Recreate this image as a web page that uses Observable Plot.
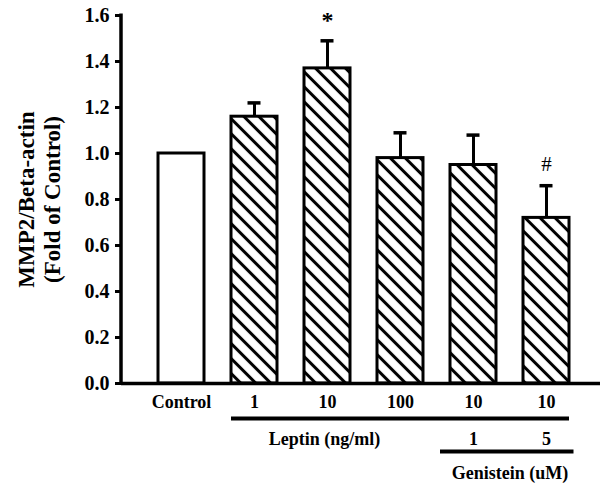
<!DOCTYPE html>
<html><head><meta charset="utf-8">
<script src="https://cdn.jsdelivr.net/npm/d3@7"></script>
<script src="https://cdn.jsdelivr.net/npm/@observablehq/plot@0.6"></script>
<style>body{margin:0;background:#fff}</style>
</head><body><div id="chart"></div>
<script>
const categories = ["Control", "Leptin 1", "Leptin 10", "Leptin 100", "Leptin 10 + Gen 1", "Leptin 10 + Gen 5"];
const means = [1.00, 1.16, 1.37, 0.98, 0.95, 0.72];
const errors = [0, 0.06, 0.12, 0.11, 0.13, 0.14];
const hatched = [false, true, true, true, true, true];
const leptinLabels = ["Control", "1", "10", "100", "10", "10"];
const genisteinLabels = ["", "", "", "", "1", "5"];
const markers = ["", "", "*", "", "", "#"];
const yTicks = [0, 0.2, 0.4, 0.6, 0.8, 1.0, 1.2, 1.4, 1.6];
const yTitle = ["MMP2/Beta-actin", "(Fold of Control)"];
const groupTitles = ["Leptin (ng/ml)", "Genistein (uM)"];

const data = categories.map((c, i) => ({
  cat: c, mean: means[i], err: errors[i], top: means[i] + errors[i],
  hatched: hatched[i], lab1: leptinLabels[i], lab2: genisteinLabels[i], mark: markers[i]
}));
const withErr = data.filter(d => d.err > 0);

const font = "'Liberation Serif', 'Times New Roman', serif";

const axisLine = (index, scales, values, dims) => {
  return d3.create("svg:line")
    .attr("x1", dims.marginLeft).attr("x2", dims.marginLeft)
    .attr("y1", scales.y(1.6) - 1.5).attr("y2", scales.y(0) + 1.5)
    .attr("stroke", "black").attr("stroke-width", 3.5).node();
};

const chart = Plot.plot({
  width: 604, height: 483,
  marginTop: 15, marginBottom: 100, marginLeft: 121, marginRight: 4,
  style: {fontFamily: font, fontWeight: "bold", fontSize: "18px", background: "white", color: "black", overflow: "visible"},
  x: {domain: categories, range: [121, 605], paddingInner: 0.37, paddingOuter: 0.5, axis: null},
  y: {domain: [0, 1.6], axis: null},
  marks: [
    Plot.barY(data, {filter: d => !d.hatched, x: "cat", y: "mean", fill: "white", stroke: "black", strokeWidth: 3}),
    Plot.barY(data, {filter: d => d.hatched, x: "cat", y: "mean", fill: "url(#hatch)", stroke: "black", strokeWidth: 3}),
    Plot.ruleX(withErr, {x: "cat", y1: "mean", y2: "top", stroke: "black", strokeWidth: 3}),
    Plot.tickY(withErr, {x: "cat", y: "top", stroke: "black", strokeWidth: 3.5, inset: 16.5}),
    Plot.text(data, {filter: d => d.mark === "*", x: "cat", y: "top", text: "mark", dy: -20, fontWeight: "bold", fontSize: 24}),
    Plot.text(data, {filter: d => d.mark === "#", x: "cat", y: "top", text: "mark", dy: -21, fontWeight: "normal", fontSize: 21}),
    Plot.axisY({ticks: yTicks, tickFormat: d3.format(".1f"), tickSize: 6, tickPadding: 6, strokeWidth: 3, label: null, fontSize: 20}),
    Plot.ruleY([0], {stroke: "black", strokeWidth: 3.5}),
    axisLine,
    Plot.text(data, {x: "cat", y: 0, dy: 19, text: "lab1"}),
    Plot.ruleY([0], {x1: () => categories[1], x2: () => categories[5], dy: 35, stroke: "black", strokeWidth: 4}),
    Plot.text([groupTitles[0]], {x: () => categories[2], y: 0, dy: 56, dx: -3, text: d => d}),
    Plot.text(data, {x: "cat", y: 0, dy: 56, text: "lab2"}),
    Plot.ruleY([0], {x1: () => categories[4], x2: () => categories[5], dy: 68, insetLeft: -10, insetRight: -4.5, stroke: "black", strokeWidth: 4}),
    Plot.text([groupTitles[1]], {x: () => categories[4], y: 0, dy: 90, dx: 36.5, text: d => d}),
    Plot.text([yTitle[0]], {frameAnchor: "left", textAnchor: "middle", dx: -95, rotate: -90, text: d => d, fontSize: 23}),
    Plot.text([yTitle[1]], {frameAnchor: "left", textAnchor: "middle", dx: -69, rotate: -90, text: d => d, fontSize: 23})
  ]
});

const defs = d3.select(chart).insert("defs", ":first-child");
const s = 10.6;
const pat = defs.append("pattern").attr("id", "hatch")
  .attr("patternUnits", "userSpaceOnUse").attr("width", s).attr("height", s)
  .attr("patternTransform", "rotate(45)");
pat.append("rect").attr("width", s).attr("height", s).attr("fill", "white");
pat.append("line").attr("x1", 0).attr("x2", s).attr("y1", s / 2).attr("y2", s / 2)
  .attr("stroke", "black").attr("stroke-width", 3);

document.getElementById("chart").appendChild(chart);
</script>
</body></html>
